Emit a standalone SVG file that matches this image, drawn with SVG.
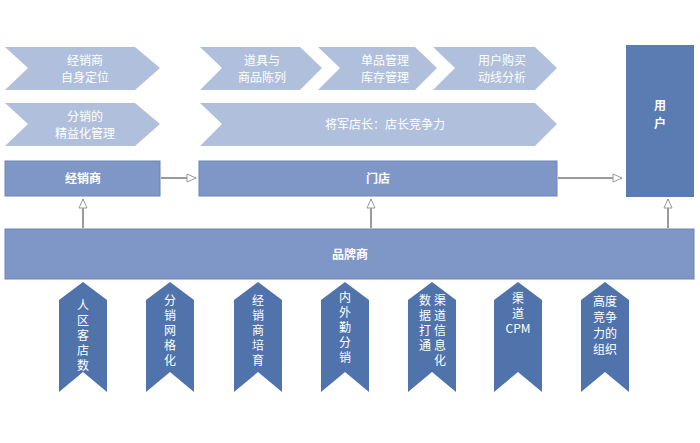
<svg xmlns="http://www.w3.org/2000/svg" width="700" height="443" viewBox="0 0 700 443">
<defs>
<style>
.lt{fill:#b0bfdb}
.bx{fill:#7f97c7;stroke:#6a84b6;stroke-width:1}
.dk{fill:#4f73aa}
text{font-family:"Noto Sans CJK SC","Liberation Sans",sans-serif;text-anchor:middle}
.w{fill:#fff;font-size:12px}
.b{fill:#fff;font-size:12px;font-weight:bold}
.v{fill:#fff;font-size:12px}
.ln{stroke:#9a9a9a;stroke-width:2;fill:none}
</style>
<marker id="ah" markerWidth="12" markerHeight="12" refX="10" refY="5" orient="auto" markerUnits="userSpaceOnUse"><path d="M1,1 L10,5 L1,9 Z" fill="#fff" stroke="#999" stroke-width="1"/></marker>
</defs>
<rect width="700" height="443" fill="#fff"/>
<g id="c1"><polygon class="lt" points="5,47 135,47 160,68 135,90 5,90 28,68"/><text class="w" x="85" y="65">经销商</text><text class="w" x="85" y="82">自身定位</text></g>
<g id="c2"><polygon class="lt" points="5,103 135,103 160,124 135,146 5,146 28,124"/><text class="w" x="85" y="121">分销的</text><text class="w" x="85" y="138">精益化管理</text></g>
<g id="c3"><polygon class="lt" points="200,47 300,47 322,68 300,90 200,90 222,68"/><text class="w" x="262" y="65">道具与</text><text class="w" x="262" y="82">商品陈列</text></g>
<g id="c4"><polygon class="lt" points="318,47 415,47 437,68 415,90 318,90 340,68"/><text class="w" x="385" y="65">单品管理</text><text class="w" x="385" y="82">库存管理</text></g>
<g id="c5"><polygon class="lt" points="433,47 535,47 557,68 535,90 433,90 455,68"/><text class="w" x="502" y="65">用户购买</text><text class="w" x="502" y="82">动线分析</text></g>
<g id="c6"><polygon class="lt" points="200,103 535,103 557,124 535,146 200,146 222,124"/><text class="w" x="385" y="129">将军店长：店长竞争力</text></g>
<g id="jxs"><rect class="bx" x="5" y="161" width="155" height="35"/><text class="b" x="83" y="183">经销商</text></g>
<g id="md"><rect class="bx" x="199" y="161" width="358" height="35"/><text class="b" x="378" y="183">门店</text></g>
<g id="yh"><rect x="626" y="45" width="68" height="152" fill="#5a7cb3"/><text class="b" x="660" y="110" font-size="15">用</text><text class="b" x="660" y="128" font-size="15">户</text></g>
<g id="ppp"><rect class="bx" x="5" y="229" width="689" height="50"/><text class="b" x="350" y="259">品牌商</text></g>
<g id="connectors">
<line class="ln" x1="161" y1="178" x2="196" y2="178" marker-end="url(#ah)"/>
<line class="ln" x1="558" y1="178" x2="622" y2="178" marker-end="url(#ah)"/>
<line class="ln" x1="83" y1="228" x2="83" y2="199" marker-end="url(#ah)"/>
<line class="ln" x1="371" y1="228" x2="371" y2="199" marker-end="url(#ah)"/>
<line class="ln" x1="668" y1="228" x2="668" y2="199" marker-end="url(#ah)"/>
</g>
<g id="b1"><polygon class="dk" points="83,282 107,300 107,392 83,372 59,392 59,300"/><text class="v"><tspan x="83" y="310">人</tspan><tspan x="83" y="325">区</tspan><tspan x="83" y="340">客</tspan><tspan x="83" y="355">店</tspan><tspan x="83" y="370">数</tspan></text></g>
<g id="b2"><polygon class="dk" points="170,282 194,300 194,392 170,372 146,392 146,300"/><text class="v"><tspan x="170" y="305">分</tspan><tspan x="170" y="320">销</tspan><tspan x="170" y="335">网</tspan><tspan x="170" y="350">格</tspan><tspan x="170" y="365">化</tspan></text></g>
<g id="b3"><polygon class="dk" points="258,282 282,300 282,392 258,372 234,392 234,300"/><text class="v"><tspan x="258" y="305">经</tspan><tspan x="258" y="320">销</tspan><tspan x="258" y="335">商</tspan><tspan x="258" y="350">培</tspan><tspan x="258" y="365">育</tspan></text></g>
<g id="b4"><polygon class="dk" points="345,282 369,300 369,392 345,372 321,392 321,300"/><text class="v"><tspan x="345" y="302">内</tspan><tspan x="345" y="317">外</tspan><tspan x="345" y="332">勤</tspan><tspan x="345" y="347">分</tspan><tspan x="345" y="362">销</tspan></text></g>
<g id="b5"><polygon class="dk" points="432,282 456,300 456,392 432,372 408,392 408,300"/><text class="v"><tspan x="440" y="305">渠</tspan><tspan x="440" y="320">道</tspan><tspan x="440" y="335">信</tspan><tspan x="440" y="350">息</tspan><tspan x="440" y="365">化</tspan><tspan x="425" y="305">数</tspan><tspan x="425" y="320">据</tspan><tspan x="425" y="335">打</tspan><tspan x="425" y="350">通</tspan></text></g>
<g id="b6"><polygon class="dk" points="518,282 542,300 542,392 518,372 494,392 494,300"/><text class="v"><tspan x="518" y="303">渠</tspan><tspan x="518" y="318">道</tspan><tspan x="518" y="333">CPM</tspan></text></g>
<g id="b7"><polygon class="dk" points="605,282 629,300 629,392 605,372 581,392 581,300"/><text class="v"><tspan x="605" y="306">高度</tspan><tspan x="605" y="322">竞争</tspan><tspan x="605" y="338">力的</tspan><tspan x="605" y="354">组织</tspan></text></g>
</svg>
